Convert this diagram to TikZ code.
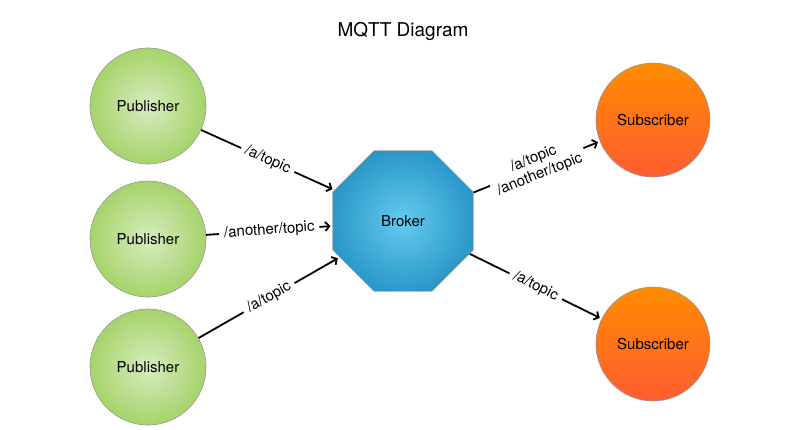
\documentclass[tikz,border=0pt]{standalone}
\usepackage{fontspec}
\setmainfont{TeX Gyre Heros}
\usetikzlibrary{arrows.meta,shapes.geometric}

\definecolor{pubin}{HTML}{D8EBC0}
\definecolor{pubout}{HTML}{A5D46A}
\definecolor{subtop}{HTML}{FF8C00}
\definecolor{subbot}{HTML}{FF5C30}
\definecolor{brokin}{HTML}{62CBEF}
\definecolor{brokout}{HTML}{2C98C9}

\begin{document}
\begin{tikzpicture}[
    x=1pt, y=-1pt,
    every node/.style={font=\fontsize{15}{17}\selectfont},
    publisher/.style={circle, draw=gray!80, line width=0.6pt, minimum size=116pt, inner sep=0pt,
      inner color=pubin, outer color=pubout},
    subscriber/.style={circle, draw=gray!80, line width=0.6pt, minimum size=114pt, inner sep=0pt,
      top color=subtop, bottom color=subbot},
    brokerbox/.style={regular polygon, regular polygon sides=8, draw=gray!80, line width=0.6pt,
      minimum size=152pt, inner sep=0pt, inner color=brokin, outer color=brokout},
    flow/.style={line width=1.8pt, -{Straight Barb[length=4pt,width=9pt]}, shorten >=2pt},
    topic/.style={midway, sloped, fill=white, inner sep=5pt, align=center},
]
\useasboundingbox (0,0) rectangle (792,429);

\node (title) at (403,31) {\fontsize{19}{21}\selectfont MQTT Diagram};

\node[publisher] (pub1) at (148,106) {Publisher};
\node[publisher] (pub2) at (148,239) {Publisher};
\node[publisher] (pub3) at (148,367) {Publisher};
\node[brokerbox] (broker) at (403,221) {Broker};
\node[subscriber] (sub1) at (653,120) {Subscriber};
\node[subscriber] (sub2) at (653,344) {Subscriber};

\draw[flow] (pub1) -- node[topic] {/a/topic} (broker);
\draw[flow] (pub2) -- node[topic] {/another/topic} (broker);
\draw[flow] (pub3) -- node[topic] {/a/topic} (broker);
\draw[flow] (broker) -- node[topic] {/a/topic\\/another/topic} (sub1);
\draw[flow] (broker) -- node[topic] {/a/topic} (sub2);
\end{tikzpicture}
\end{document}
